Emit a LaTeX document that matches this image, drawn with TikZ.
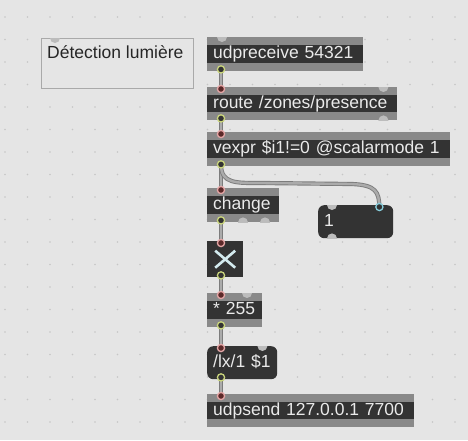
\documentclass[tikz,border=0pt]{standalone}
\usepackage{fontspec}
\setmainfont{Liberation Sans}
\begin{document}
\definecolor{canvas}{HTML}{E5E5E5}
\definecolor{griddot}{HTML}{C6C6C6}
\definecolor{band}{HTML}{898989}
\definecolor{boxdark}{HTML}{333333}
\definecolor{boxtext}{HTML}{EAEAEA}
\definecolor{cordedge}{HTML}{7C7C7C}
\definecolor{cordfill}{HTML}{ABABAB}
\definecolor{inring}{HTML}{E4A6A6}
\definecolor{outring}{HTML}{C9D47C}
\definecolor{numring}{HTML}{86CCDA}
\definecolor{portgrey}{HTML}{BCBCBC}
\definecolor{xmark}{HTML}{D3EAEE}
\definecolor{commentedge}{HTML}{A9A9A9}
\begin{tikzpicture}[x=1pt,y=-1pt,
  maxfont/.style={font=\fontsize{17.5}{20}\selectfont},
  objbox/.style={maxfont, anchor=north west, fill=band, text=boxtext,
    inner xsep=6pt, inner ysep=0pt, align=left,
    text height=12.5pt, text depth=3.5pt,
    path picture={\fill[boxdark]
      ([yshift=-8pt]path picture bounding box.north west) rectangle
      ([yshift=8pt]path picture bounding box.south east);}},
  roundbox/.style={maxfont, anchor=north west, fill=boxdark, text=boxtext,
    rounded corners=6pt, inner xsep=6pt, inner ysep=0pt, align=left,
    text height=12.5pt, text depth=3.5pt},
  cord/.style={draw=cordedge, line width=0.9pt, double=cordfill,
    double distance=2.4pt},
  inport/.style={draw=inring, fill=boxdark!80!red, line width=1.3pt},
  outport/.style={draw=outring, fill=boxdark, line width=1.3pt},
  numport/.style={draw=numring, fill=boxdark, line width=1.3pt},
  greyport/.style={fill=portgrey}]

% canvas and grid
\fill[canvas] (0,0) rectangle (468,440);
\useasboundingbox (0,0) rectangle (468,440);
\foreach \i in {0,...,20}
  \foreach \j in {0,...,19}
    \fill[griddot] (5+22.5*\i,17+22.5*\j) circle[radius=0.9pt];

% comment
\node[anchor=north west, draw=commentedge, fill=canvas, line width=0.8pt,
  minimum width=152pt, minimum height=50pt, inner sep=0pt] (cmt) at (41,38) {};
\begin{scope}
  \clip (cmt.north west) rectangle (cmt.south east);
  \fill[greyport] ([xshift=14pt]cmt.north west) circle[radius=5pt];
\end{scope}
\node[maxfont, anchor=west, inner sep=0pt, text=black!85] (cmttext) at (47,52) {Détection lumière};

% objects
\node[objbox, text width=144pt, minimum height=34pt] (udp) at (207,37) {udpreceive 54321};
\node[objbox, text width=178pt, minimum height=33pt] (route) at (207,87) {route /zones/presence};
\node[objbox, text width=231pt, minimum height=34pt] (vexpr) at (207,132) {vexpr \$i1!=0 @scalarmode 1};
\node[objbox, text width=60pt, minimum height=34pt] (chg) at (207,188) {change};
\node[roundbox, text width=63pt, minimum height=33pt] (num) at (318,205) {1};
\node[anchor=north west, fill=boxdark, minimum width=36pt, minimum height=36pt, inner sep=0pt] (tog) at (207,241) {};
\node[objbox, text width=43pt, minimum height=34pt] (mul) at (207,293) {* 255};
\node[roundbox, text width=58pt, minimum height=33pt] (msg) at (207,346) {/lx/1 \$1};
\node[objbox, text width=195pt, minimum height=33pt] (send) at (207,394) {udpsend 127.0.0.1 7700};

% toggle cross
\draw[xmark, line width=2.6pt]
  ([shift={(-10pt,-8.5pt)}]tog.center) -- ([shift={(10pt,8.5pt)}]tog.center)
  ([shift={(-10pt,8.5pt)}]tog.center) -- ([shift={(10pt,-8.5pt)}]tog.center);

% port positions
\coordinate (udp-o) at ([shift={(14pt,2pt)}]udp.south west);
\coordinate (route-i) at ([shift={(14pt,-2pt)}]route.north west);
\coordinate (route-o) at ([shift={(14pt,2pt)}]route.south west);
\coordinate (vexpr-i) at ([shift={(14pt,-2pt)}]vexpr.north west);
\coordinate (vexpr-o) at ([shift={(14pt,2pt)}]vexpr.south west);
\coordinate (chg-i) at ([shift={(14pt,-2pt)}]chg.north west);
\coordinate (chg-o) at ([shift={(14pt,2pt)}]chg.south west);
\coordinate (num-i) at ([shift={(-14pt,-2pt)}]num.north east);
\coordinate (tog-i) at ([shift={(14pt,-2pt)}]tog.north west);
\coordinate (tog-o) at ([shift={(14pt,2pt)}]tog.south west);
\coordinate (mul-i) at ([shift={(14pt,-2pt)}]mul.north west);
\coordinate (mul-o) at ([shift={(14pt,2pt)}]mul.south west);
\coordinate (msg-i) at ([shift={(14pt,-2pt)}]msg.north west);
\coordinate (msg-o) at ([shift={(14pt,2pt)}]msg.south west);
\coordinate (send-i) at ([shift={(14pt,-2pt)}]send.north west);

% patch cords
\draw[cord] (udp-o) -- (route-i);
\draw[cord] (route-o) -- (vexpr-i);
\draw[cord] (vexpr-o) -- (chg-i);
\draw[cord] (vexpr-o) .. controls (221,184) and (236,183) .. (262,183)
  -- (352,184) .. controls (376,185) and (379,192) .. (num-i);
\draw[cord] (chg-o) -- (tog-i);
\draw[cord] (tog-o) -- (mul-i);
\draw[cord] (mul-o) -- (msg-i);
\draw[cord] (msg-o) -- (send-i);

% unconnected grey ports
\foreach \n/\dx/\side in {udp/15/north west, route/-14/north east, route/-14/south east,
    chg/36/south west, chg/58/south west, num/14/north west, num/14/south west,
    mul/40/north west, msg/-15/north east} {
  \begin{scope}
    \clip (\n.north west) rectangle (\n.south east);
    \fill[greyport] ([xshift=\dx pt]\n.\side) circle[radius=5pt];
  \end{scope}
}

% connected ports
\foreach \p in {route-i,vexpr-i,chg-i,tog-i,mul-i,msg-i,send-i}
  \filldraw[inport] (\p) circle[radius=3.6pt];
\foreach \p in {udp-o,route-o,vexpr-o,chg-o,tog-o,mul-o,msg-o}
  \filldraw[outport] (\p) circle[radius=3.6pt];
\filldraw[numport] (num-i) circle[radius=3.6pt];
\end{tikzpicture}
\end{document}
